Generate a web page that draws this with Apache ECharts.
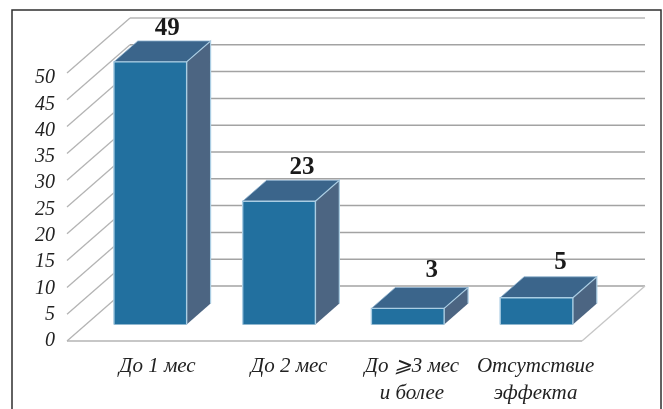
<!DOCTYPE html>
<html>
<head>
<meta charset="utf-8">
<style>html,body{margin:0;padding:0;background:#fff}#chart{width:663px;height:409px}</style>
<script src="https://cdn.jsdelivr.net/npm/echarts@6/dist/echarts.min.js"></script>
</head>
<body>
<div id="chart"></div>
<script>
// Response duration groups and patient counts
const categories = ['До 1 мес', 'До 2 мес', 'До ⩾3 мес\nи более', 'Отсутствие\nэффекта'];
const patients = [49, 23, 3, 5];
const tickValues = [0, 5, 10, 15, 20, 25, 30, 35, 40, 45, 50];

// Oblique projection of the floor: full depth in pixels, and the slice a bar occupies
const DEPTH_X = 63, DEPTH_Y = 55;
const BAR_NEAR = 0.30, BAR_FAR = 0.68, BAR_WIDTH = 0.565;
const LABEL_SHIFT = [52, 58, 46, 36];
const FIGURE_NUDGE = [[-5, 4], [1, 3], [2, -1], [2, 2]];

const project = (p, t) => [p[0] + t * DEPTH_X, p[1] - t * DEPTH_Y];
const poly = (points, style, z2) => ({ type: 'polygon', shape: { points }, style, z2 });
const path = (points, stroke, lineWidth, z2) => ({
  type: 'polyline', shape: { points }, style: { stroke, lineWidth, fill: 'none' }, z2
});

// Left wall diagonal and back wall line for each tick
function renderWall(params, api) {
  const v = api.value(0);
  const cs = params.coordSys;
  const front = api.coord([0, v]);
  const a = [cs.x, front[1]];
  const b = project(a, 1);
  const c = [cs.x + cs.width + DEPTH_X, b[1]];
  const children = [
    path([a, b], '#b4b4b4', 1.3, 1),
    path([b, c], v === 50 ? '#b6b6b6' : '#a3a3a3', 1.5, 1)
  ];
  if (v === 0) {
    const d = [cs.x + cs.width, a[1]];
    children.push(path([a, d], '#b4b4b4', 1.5, 2));
    children.push(path([d, c], '#c6c6c6', 1.3, 2));
  }
  return { type: 'group', children };
}

// Box with front, top and side faces, plus its figure above
function renderBar(params, api) {
  const i = api.value(0), v = api.value(1);
  const half = api.size([1, 0])[0] * BAR_WIDTH / 2;
  const base = api.coord([i, 0]), top = api.coord([i, v]);
  const n = (x, y) => project([x, y], BAR_NEAR);
  const f = (x, y) => project([x, y], BAR_FAR);
  const L = base[0] - half, R = base[0] + half, B = base[1], T = top[1];
  const edge = '#aacde3';
  const tLabel = n(base[0], T);
  return {
    type: 'group',
    children: [
      poly([n(R, B), f(R, B), f(R, T), n(R, T)], { fill: '#4c6582' }, 10),
      poly([n(L, T), n(R, T), f(R, T), f(L, T)], { fill: '#3b658b' }, 10),
      poly([n(L, B), n(R, B), n(R, T), n(L, T)], { fill: '#22709f' }, 11),
      path([n(L, B), n(L, T), n(R, T), n(R, B)], edge, 1.4, 12),
      path([n(R, T), f(R, T), f(R, B)], edge, 1.2, 12),
      path([n(L, T), f(L, T), f(R, T)], '#8fb4d0', 0.8, 12),
      {
        type: 'text', z2: 20,
        style: {
          x: tLabel[0] + 22 + FIGURE_NUDGE[i][0], y: tLabel[1] - 37 + FIGURE_NUDGE[i][1], text: String(v),
          fontFamily: '"Liberation Serif"', fontWeight: 'bold', fontSize: 25,
          fill: '#1a1a1a', align: 'center', verticalAlign: 'middle'
        }
      }
    ]
  };
}

const axisText = { fontFamily: '"Liberation Serif"', fontStyle: 'italic', color: '#222' };

const chart = echarts.init(document.getElementById('chart'), null, { renderer: 'canvas' });
chart.setOption({
  animation: false,
  backgroundColor: '#fff',
  graphic: [{
    type: 'rect', silent: true, z: -1,
    shape: { x: 12, y: 10, width: 649, height: 430 },
    style: { fill: 'none', stroke: '#2f2f2f', lineWidth: 1.5 }
  }],
  grid: [
    { left: 67, top: 73, width: 515, height: 268 },
    { left: 67, top: 78, width: 515, height: 263 }
  ],
  xAxis: [
    {
      type: 'category', gridIndex: 0,
      data: categories.map((value, i) => ({
        value, textStyle: { padding: [0, 0, 0, LABEL_SHIFT[i]] }
      })),
      axisLine: { show: false }, axisTick: { show: false },
      axisLabel: Object.assign({}, axisText, { fontSize: 21, lineHeight: 27, margin: 12, interval: 0 })
    },
    { type: 'category', gridIndex: 1, show: false, data: categories }
  ],
  yAxis: [
    { type: 'value', gridIndex: 0, min: 0, max: 50, interval: 5, show: false },
    {
      type: 'value', gridIndex: 1, min: 0, max: 50, interval: 5,
      axisLine: { show: false }, axisTick: { show: false }, splitLine: { show: false },
      axisLabel: Object.assign({}, axisText, { fontSize: 20, margin: 12 })
    }
  ],
  series: [
    {
      type: 'custom', xAxisIndex: 0, yAxisIndex: 0, z: 1, silent: true, clip: false,
      renderItem: renderWall, data: tickValues.map(v => [v]),
      encode: { y: 0 }
    },
    {
      type: 'custom', xAxisIndex: 0, yAxisIndex: 0, z: 5, silent: true, clip: false,
      renderItem: renderBar, data: patients.map((v, i) => [i, v]),
      encode: { x: 0, y: 1 }
    }
  ]
});
</script>
</body>
</html>
